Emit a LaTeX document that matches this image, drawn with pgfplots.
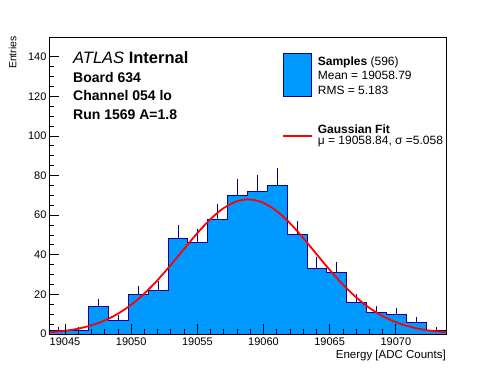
\documentclass[border=0pt]{standalone}
\usepackage{fontspec}
\setmainfont{Liberation Sans}
\usepackage{pgfplots}
\pgfplotsset{compat=1.18}
\usepackage{pgfplotstable}
\definecolor{histfill}{RGB}{0,153,255}
\definecolor{histline}{RGB}{0,0,153}

% bin left edges (width 1.5) and counts; last row closes the last bin
\pgfplotstableread{
x y
19043.79 2
19045.29 2
19046.79 14
19048.29 7
19049.79 20
19051.29 22
19052.79 48
19054.29 46
19055.79 58
19057.29 70
19058.79 72
19060.29 75
19061.79 50
19063.29 33
19064.79 31
19066.29 16
19067.79 11
19069.29 10
19070.79 6
19072.29 2
19073.79 2
}\histedges

% bin centres, counts, statistical errors
\pgfplotstableread{
x y e
19044.54 2 1.41
19046.04 2 1.41
19047.54 14 3.74
19049.04 7 2.65
19050.54 20 4.47
19052.04 22 4.69
19053.54 48 6.93
19055.04 46 6.78
19056.54 58 7.62
19058.04 70 8.37
19059.54 72 8.49
19061.04 75 8.66
19062.54 50 7.07
19064.04 33 5.74
19065.54 31 5.57
19067.04 16 4.00
19068.54 11 3.32
19070.04 10 3.16
19071.54 6 2.45
19073.04 2 1.41
}\histerr

% Gaussian fit curve sampled points
\pgfplotstableread{
x y
19043.84 0.84
19044.84 1.47
19045.84 2.50
19046.84 4.08
19047.84 6.39
19048.84 9.63
19049.84 13.96
19050.84 19.47
19051.84 26.10
19052.84 33.65
19053.84 41.72
19054.84 49.74
19055.84 57.03
19056.84 62.89
19057.84 66.68
19058.84 68.00
19059.84 66.68
19060.84 62.89
19061.84 57.03
19062.84 49.74
19063.84 41.72
19064.84 33.65
19065.84 26.10
19066.84 19.47
19067.84 13.96
19068.84 9.63
19069.84 6.39
19070.84 4.08
19071.84 2.50
19072.84 1.47
19073.84 0.84
}\fitcurve

\begin{document}
\begin{tikzpicture}
\fill[white] (0,0) rectangle (496pt,372pt);
\useasboundingbox (0,0) rectangle (496pt,372pt);
\begin{axis}[
  at={(49pt,38pt)}, anchor=south west,
  scale only axis, width=397pt, height=297pt,
  xmin=19043.79, xmax=19073.79, ymin=0, ymax=150,
  xtick={19045,19050,19055,19060,19065,19070},
  ytick={0,20,40,60,80,100,120,140},
  minor x tick num=4, minor y tick num=3,
  tick align=inside, tick pos=left,
  major tick length=10pt, minor tick length=5pt,
  axis on top,
  scaled ticks=false,
  /pgf/number format/1000 sep={},
  /pgf/number format/assume math mode=true,
  tick label style={font=\fontsize{11}{13}\selectfont},
  yticklabel style={xshift=1pt},
  axis line style={line width=0.8pt},
  tick style={line width=0.8pt, black},
]
\addplot[const plot, fill=histfill, draw=none] table {\histedges} \closedcycle;
\addplot[draw=none, mark=none, forget plot,
  error bars/.cd, y dir=plus, y explicit, error mark=none,
  error bar style={draw=histline, line width=1pt}]
  table[x=x, y=y, y error=e] {\histerr};
\addplot[const plot, draw=histline, line width=1pt] table {\histedges};
\addplot[smooth, draw=red, line width=1.8pt] table {\fitcurve};
\end{axis}

% y and x axis titles
\node[rotate=90, anchor=base east, font=\fontsize{10.5}{12}\selectfont, inner sep=0pt] at (16.5pt,336pt) {Entries};
\node[anchor=base east, font=\fontsize{11.5}{13}\selectfont, inner sep=0pt] at (446pt,13.5pt) {Energy [ADC Counts]};

% labels
\node[anchor=base west, inner sep=0pt, font=\fontsize{16.5}{18}\selectfont] at (73pt,308.7pt) {\textit{ATLAS} \textbf{Internal}};
\node[anchor=base west, inner sep=0pt, font=\fontsize{14}{16}\selectfont\bfseries] at (73pt,289.3pt) {Board 634};
\node[anchor=base west, inner sep=0pt, font=\fontsize{14}{16}\selectfont\bfseries] at (73pt,271pt) {Channel 054 lo};
\node[anchor=base west, inner sep=0pt, font=\fontsize{14}{16}\selectfont\bfseries] at (73pt,252.7pt) {Run 1569 A=1.8};

% legend
\filldraw[fill=histfill, draw=histline, line width=0.8pt] (283.3pt,275.3pt) rectangle (311.7pt,318.7pt);
\node[anchor=base west, inner sep=0pt, font=\fontsize{12}{14}\selectfont] at (317.7pt,306pt) {\textbf{Samples} (596)};
\node[anchor=base west, inner sep=0pt, font=\fontsize{12}{14}\selectfont] at (317.7pt,292pt) {Mean = 19058.79};
\node[anchor=base west, inner sep=0pt, font=\fontsize{12}{14}\selectfont] at (317.7pt,277.7pt) {RMS = 5.183};
\draw[red, line width=2pt] (283.3pt,236pt) -- (311.7pt,236pt);
\node[anchor=base west, inner sep=0pt, font=\fontsize{12}{14}\selectfont] at (317.7pt,238.7pt) {\textbf{Gaussian Fit}};
\node[anchor=base west, inner sep=0pt, font=\fontsize{12}{14}\selectfont] at (317.7pt,227.2pt) {μ = 19058.84, σ =5.058};
\end{tikzpicture}
\end{document}
